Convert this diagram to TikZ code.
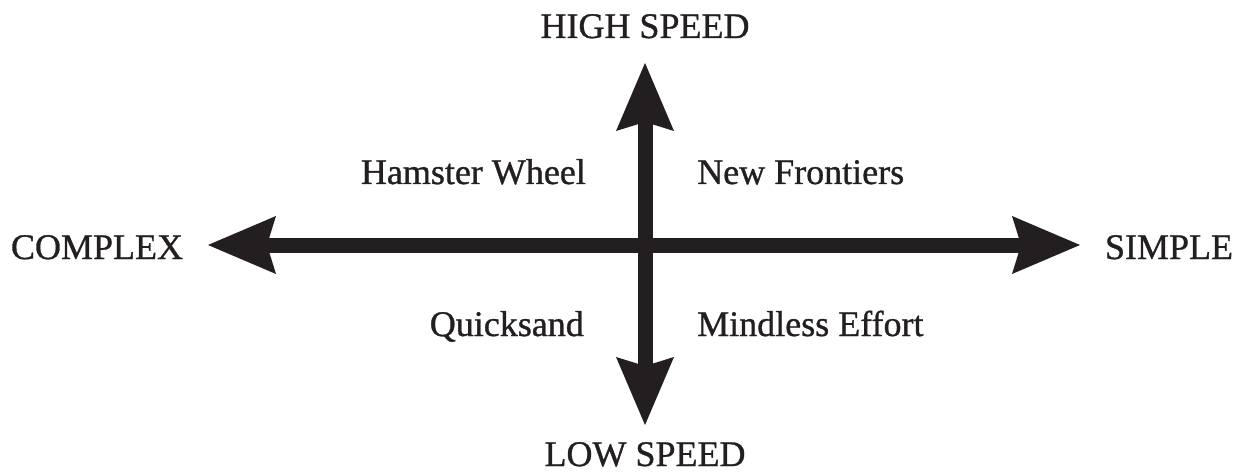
\documentclass[tikz,border=0pt]{standalone}
\usepackage{fontspec}
\setmainfont{Liberation Serif}
\usetikzlibrary{arrows.meta}
\definecolor{ink}{RGB}{35,31,32}
\begin{document}
\begin{tikzpicture}[x=1pt,y=-1pt,
  lbl/.style={inner sep=0pt,text=ink,font=\fontsize{36}{40}\selectfont\addfontfeature{FakeBold=0.9}},
  axis/.style={draw=ink,line width=15pt,
    arrows={Stealth[length=68pt,width=58pt,inset=9pt,line width=0pt,fill=ink]-Stealth[length=68pt,width=58pt,inset=9pt,line width=0pt,fill=ink]}}]
\useasboundingbox[fill=white] (0,0) rectangle (1241,473);
\coordinate (L) at (208,245);
\coordinate (R) at (1080,245);
\coordinate (T) at (645,63);
\coordinate (B) at (645,425);
\draw[axis] (L) -- (R);
\draw[axis] (B) -- (T);
\node[lbl,anchor=base] (hs) at (645,38) {HIGH SPEED};
\node[lbl,anchor=base] (ls) at (645,466) {LOW SPEED};
\node[lbl,anchor=base] (cx) at (97,259) {COMPLEX};
\node[lbl,anchor=base] (sp) at (1169,259) {SIMPLE};
\node[lbl,anchor=base east] (hw) at (586,184) {Hamster Wheel};
\node[lbl,anchor=base west] (nf) at (697,184) {New Frontiers};
\node[lbl,anchor=base east] (qs) at (584,336) {Quicksand};
\node[lbl,anchor=base west] (me) at (697,336) {Mindless Effort};
\end{tikzpicture}
\end{document}
